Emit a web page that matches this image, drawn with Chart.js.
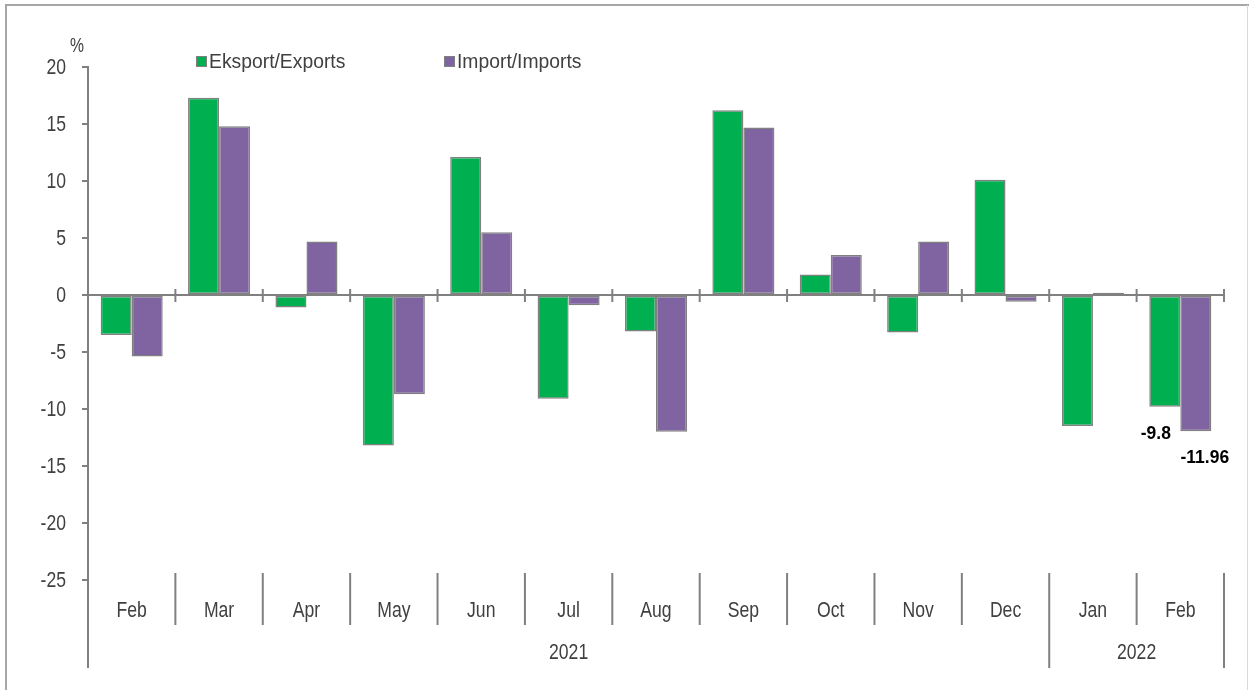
<!DOCTYPE html>
<html>
<head>
<meta charset="utf-8">
<title>Eksport / Import</title>
<script src="https://cdn.jsdelivr.net/npm/chart.js"></script>
<style>
  html, body { margin: 0; padding: 0; background: #fff; }
  #wrap { position: relative; width: 1249px; height: 690px; }
</style>
</head>
<body>
<div id="wrap"><canvas id="tradeChart" width="1249" height="690"></canvas></div>
<script>
// monthly change, %
var months = ['Feb', 'Mar', 'Apr', 'May', 'Jun', 'Jul', 'Aug', 'Sep', 'Oct', 'Nov', 'Dec', 'Jan', 'Feb'];
var years = ['2021', '2022'];
var yearSpans = [11, 2];
var exportsPct = [-3.5, 17.3, -1.1, -13.2, 12.1, -9.1, -3.2, 16.2, 1.8, -3.3, 10.1, -11.5, -9.8];
var importsPct = [-5.4, 14.8, 4.7, -8.7, 5.5, -0.9, -12.0, 14.7, 3.5, 4.7, -0.6, 0.2, -11.96];
var seriesNames = ['Eksport/Exports', 'Import/Imports'];
var yTicks = [20, 15, 10, 5, 0, -5, -10, -15, -20, -25];

var GREEN = '#00b050';
var PURPLE = '#8064a2';
var AXIS = '#808080';
var TEXT = '#404040';
var FONT = "'Liberation Sans', Arial, sans-serif";

// condensed text, like a narrow face
function narrowText(ctx, text, x, y, squeeze) {
    ctx.save();
    ctx.translate(x, y);
    ctx.scale(squeeze || 0.8, 1);
    ctx.fillText(text, 0, 0);
    ctx.restore();
}

// zero line, axis labels, legend, frame and last-month values
var decorations = {
    id: 'decorations',
    afterDatasetsDraw: function (chart) {
        var ctx = chart.ctx;
        var area = chart.chartArea;
        var x = chart.scales.x;
        var y = chart.scales.y;
        var y0 = y.getPixelForValue(0);
        var n = months.length;
        var step = (area.right - area.left) / n;
        var edge = function (i) { return area.left + i * step; };

        ctx.save();
        // outer frame
        ctx.strokeStyle = '#a6a6a6';
        ctx.lineWidth = 2;
        ctx.beginPath();
        ctx.moveTo(6, 690);
        ctx.lineTo(6, 5);
        ctx.lineTo(1249, 5);
        ctx.stroke();
        ctx.strokeStyle = '#d9d9d9';
        ctx.lineWidth = 1;
        ctx.beginPath();
        ctx.moveTo(1247.5, 5);
        ctx.lineTo(1247.5, 690);
        ctx.stroke();

        // zero axis with ticks at category boundaries
        ctx.strokeStyle = AXIS;
        ctx.lineWidth = 2;
        ctx.beginPath();
        ctx.moveTo(area.left, y0);
        ctx.lineTo(area.right, y0);
        for (var i = 1; i <= n; i++) {
            ctx.moveTo(edge(i), y0 - 6);
            ctx.lineTo(edge(i), y0 + 7);
        }
        // extend the value axis down past the labels
        ctx.moveTo(area.left, area.bottom);
        ctx.lineTo(area.left, area.bottom + 88);
        ctx.stroke();

        // month separators, longer at year ends
        var top = area.bottom - 7;
        var yearEnds = {};
        var acc = 0;
        yearSpans.forEach(function (s) { acc += s; yearEnds[acc] = true; });
        ctx.beginPath();
        for (var i = 1; i <= n; i++) {
            ctx.moveTo(edge(i), top);
            ctx.lineTo(edge(i), yearEnds[i] ? area.bottom + 88 : area.bottom + 45);
        }
        ctx.stroke();

        ctx.fillStyle = TEXT;
        ctx.font = '22px ' + FONT;
        ctx.textBaseline = 'middle';

        // value axis labels
        ctx.textAlign = 'right';
        yTicks.forEach(function (v) {
            narrowText(ctx, String(v), area.left - 22, y.getPixelForValue(v) + 1);
        });

        // month and year labels
        ctx.textAlign = 'center';
        for (var i = 0; i < n; i++) {
            narrowText(ctx, months[i], x.getPixelForValue(i), area.bottom + 31);
        }
        var first = 0;
        years.forEach(function (yr, k) {
            var last = first + yearSpans[k];
            narrowText(ctx, yr, (edge(first) + edge(last)) / 2, area.bottom + 73);
            first = last;
        });

        // unit mark
        ctx.font = '21px ' + FONT;
        narrowText(ctx, '%', area.left - 11, area.top - 21, 0.75);

        // legend
        var colors = [GREEN, PURPLE];
        var lx = [196, 444];
        ctx.font = '21px ' + FONT;
        ctx.textAlign = 'left';
        seriesNames.forEach(function (name, k) {
            ctx.fillStyle = colors[k];
            ctx.fillRect(lx[k], 56, 11, 11);
            ctx.strokeStyle = AXIS;
            ctx.lineWidth = 1;
            ctx.strokeRect(lx[k] + 0.5, 56.5, 10, 10);
            ctx.fillStyle = TEXT;
            narrowText(ctx, name, lx[k] + 13, 62, 0.92);
        });

        // values of the latest month
        var li = n - 1;
        ctx.font = 'bold 19px ' + FONT;
        ctx.fillStyle = '#000';
        ctx.textAlign = 'center';
        var eBar = chart.getDatasetMeta(0).data[li];
        var iBar = chart.getDatasetMeta(1).data[li];
        narrowText(ctx, String(exportsPct[li]), eBar.x - 9, y.getPixelForValue(exportsPct[li]) + 27, 0.92);
        narrowText(ctx, String(importsPct[li]), iBar.x + 9, y.getPixelForValue(importsPct[li]) + 26, 0.92);
        ctx.restore();
    }
};

new Chart(document.getElementById('tradeChart'), {
    type: 'bar',
    data: {
        labels: months,
        datasets: [
            { label: seriesNames[0], data: exportsPct, backgroundColor: GREEN },
            { label: seriesNames[1], data: importsPct, backgroundColor: PURPLE }
        ]
    },
    options: {
        responsive: false,
        animation: false,
        layout: { padding: { left: 0, top: 67, right: 25, bottom: 110 } },
        datasets: {
            bar: {
                categoryPercentage: 0.71,
                barPercentage: 1.0,
                borderColor: AXIS,
                borderWidth: 1.5,
                borderSkipped: false
            }
        },
        plugins: {
            legend: { display: false },
            tooltip: { enabled: false }
        },
        scales: {
            x: { display: false },
            y: {
                min: -25,
                max: 20,
                afterFit: function (scale) { scale.width = 88; },
                afterBuildTicks: function (scale) {
                    scale.ticks = yTicks.map(function (v) { return { value: v }; });
                },
                grid: {
                    drawOnChartArea: false,
                    drawTicks: true,
                    tickLength: 6,
                    color: AXIS,
                    lineWidth: 2
                },
                border: { color: AXIS, width: 2 },
                ticks: { display: false }
            }
        }
    },
    plugins: [decorations]
});
</script>
</body>
</html>
